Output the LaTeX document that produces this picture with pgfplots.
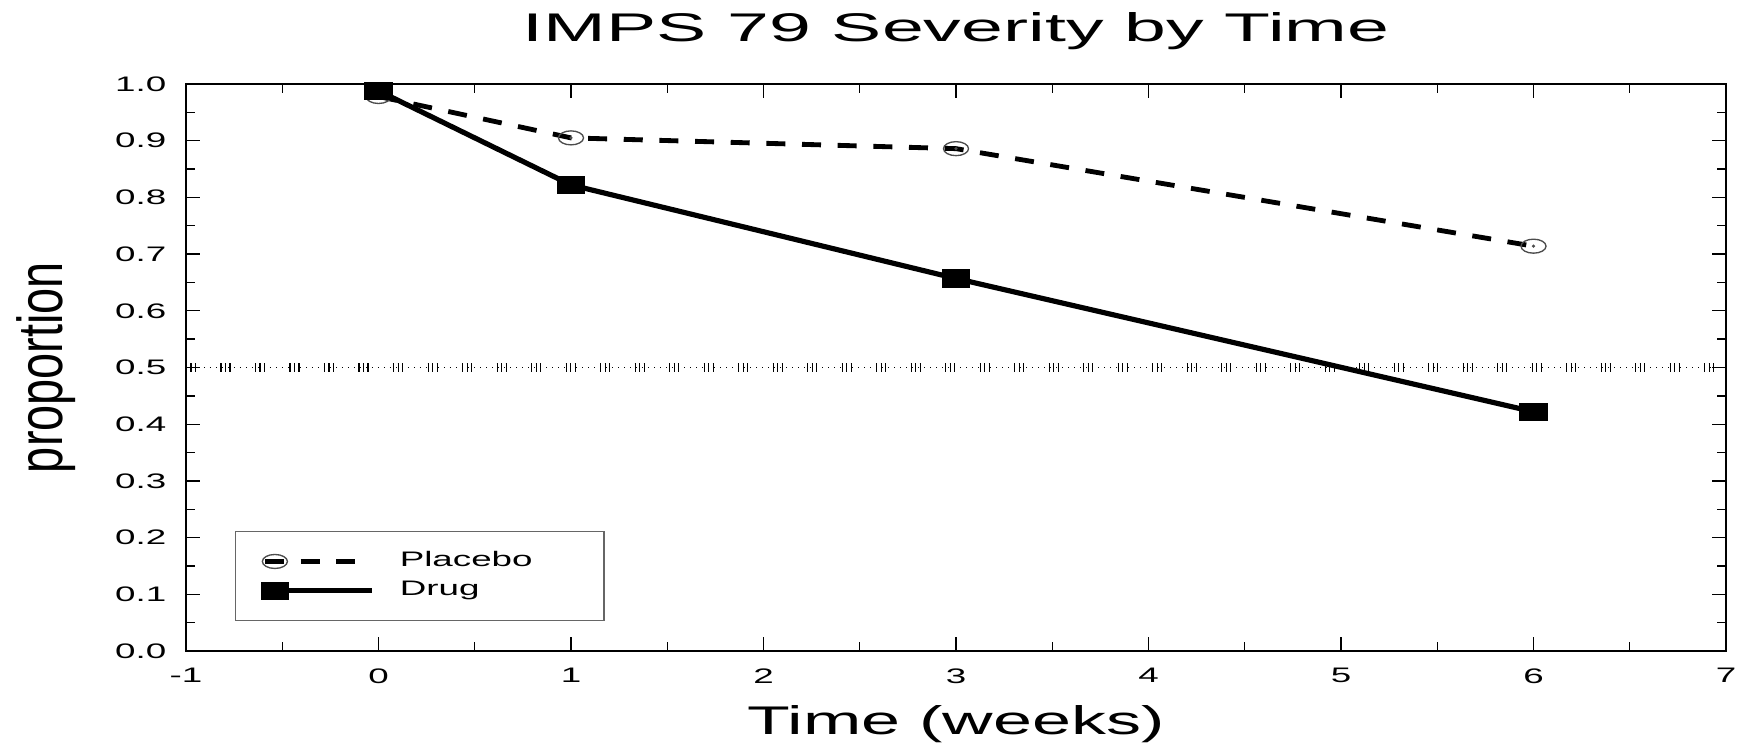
\documentclass[border=0pt]{standalone}
\usepackage{fontspec}
\setmainfont{Liberation Sans}
\usepackage{graphicx}
\usepackage{pgfplots}
\pgfplotsset{compat=1.18}
\newcommand\wide[1]{\scalebox{1.75}[1]{#1}}

\pgfplotstableread{
x y
0 0.978
1 0.905
3 0.886
6 0.714
}\placebo
\pgfplotstableread{
x y
0 0.988
1 0.822
3 0.657
6 0.422
}\drug
\pgfplotstableread{
x y
-1 0.5
7 0.5
}\refline

\begin{document}
\begin{tikzpicture}
\begin{axis}[
  scale only axis, width=462pt, height=170.1pt,
  xmin=-1, xmax=7, ymin=0, ymax=1,
  xtick={-1,0,1,2,3,4,5,6,7}, minor x tick num=1,
  ytick={0,0.1,0.2,0.3,0.4,0.5,0.6,0.7,0.8,0.9,1},
  minor y tick num=1,
  xticklabels={{\wide{-1}},{\wide{0}},{\wide{1}},{\wide{2}},{\wide{3}},{\wide{4}},{\wide{5}},{\wide{6}},{\wide{7}}},
  yticklabels={{\wide{0.0}},{\wide{0.1}},{\wide{0.2}},{\wide{0.3}},{\wide{0.4}},{\wide{0.5}},{\wide{0.6}},{\wide{0.7}},{\wide{0.8}},{\wide{0.9}},{\wide{1.0}}},
  tick align=inside,
  axis line style={line width=0.7pt},
  major tick length=4.3pt, minor tick length=2.8pt,
  tick style={black, line width=0.4pt},
  ticklabel style={font=\fontsize{6.3}{7}\selectfont},
  xticklabel style={anchor=north, inner sep=0pt, yshift=-5pt},
  yticklabel style={anchor=east, inner sep=0pt, xshift=-5.7pt},
  title={\scalebox{1.88}[1]{IMPS 79 Severity by Time}},
  title style={at={(axis description cs:0.5,1.039)}, anchor=base, font=\fontsize{12}{14}\selectfont},
  xlabel={\scalebox{1.75}[1]{Time (weeks)}},
  xlabel style={at={(axis description cs:0.5,-0.148)}, anchor=base, font=\fontsize{12}{14}\selectfont},
  ylabel={\scalebox{0.74}[1]{proportion}},
  ylabel style={at={(axis description cs:-0.0909,0.5)}, anchor=center, rotate=0, font=\fontsize{19}{22}\selectfont},
  legend style={at={(axis description cs:0.0318,0.0529)}, anchor=south west,
    draw=black!60, line width=0.4pt, font=\fontsize{6.3}{7}\selectfont,
    inner xsep=8pt, inner ysep=4pt, row sep=-1.2pt},
  legend cell align=left,
  legend image code/.code={\draw[#1] (0pt,0pt) -- (32pt,0pt); \draw[#1] plot coordinates {(3pt,0pt)};},
]
\addplot[black, line width=2.8pt, dash pattern=on 0.35pt off 1pt on 0.35pt off 1pt on 0.35pt off 7.3pt, forget plot] table {\refline};
\addplot[black, line width=0.3pt, dash pattern=on 0.3pt off 1.5pt, forget plot] table {\refline};
\addplot[black, line width=1.45pt, dash pattern=on 5.7pt off 5pt, mark=o, mark size=2.1pt,
  mark options={solid, draw=black!70, line width=0.4pt, xscale=1.79}] table {\placebo};
\addlegendentry{\makebox[57pt][l]{\hspace{5.7pt}\wide{Placebo}}}
\addplot[only marks, mark=*, mark size=0.25pt, black!70, forget plot] table {\placebo};
\addplot[black, line width=1.55pt, mark=square*, mark size=1.95pt,
  mark options={solid, xscale=1.77}] table {\drug};
\addlegendentry{\makebox[57pt][l]{\hspace{5.7pt}\wide{Drug}}}
\end{axis}
\pgfresetboundingbox
\path[use as bounding box] ([xshift=-55.8pt,yshift=-27.6pt]current axis.south west) rectangle ([xshift=6pt,yshift=25.2pt]current axis.north east);
\end{tikzpicture}
\end{document}
